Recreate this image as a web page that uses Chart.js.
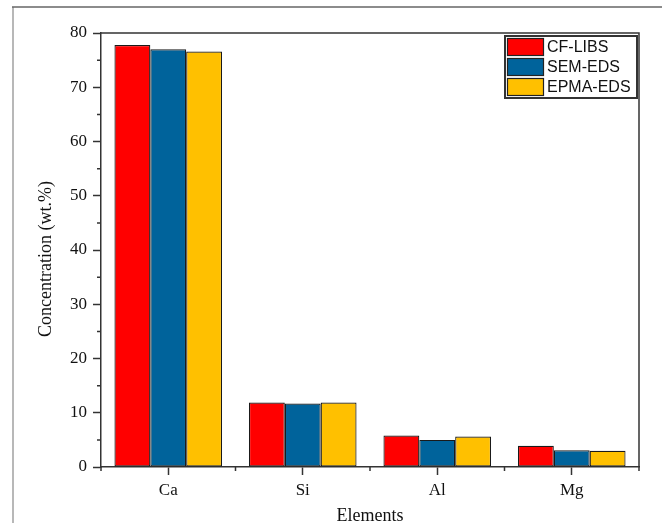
<!DOCTYPE html>
<html>
<head>
<meta charset="utf-8">
<script src="https://cdn.jsdelivr.net/npm/chart.js@4/dist/chart.umd.min.js"></script>
<style>
  html, body { margin: 0; padding: 0; background: #fff; }
  #wrap { width: 662px; height: 523px; position: relative; }
</style>
</head>
<body>
<div id="wrap"><canvas id="c" width="662" height="523"></canvas></div>
<script>
// Element concentrations (wt.%) measured by three techniques
const elements = ['Ca', 'Si', 'Al', 'Mg'];
const cfLibs  = [77.8, 11.9, 5.8, 3.9];
const semEds  = [77.0, 11.7, 5.0, 3.1];
const epmaEds = [76.6, 11.9, 5.6, 3.0];
const seriesNames = ['CF-LIBS', 'SEM-EDS', 'EPMA-EDS'];
const seriesColors = ['#ff0000', '#00639b', '#ffc000'];
const yMin = 0, yMax = 80, yStep = 10, yMinorStep = 5;
const xTitle = 'Elements';
const yTitle = 'Concentration (wt.%)';

const serif = '"Liberation Serif", "Times New Roman", serif';
const sans = '"Liberation Sans", Arial, sans-serif';
const axisColor = '#333';
const textColor = '#111';

// page frame, plot box, minor ticks, titles and legend
const decorations = {
  id: 'decorations',
  beforeDraw(chart) {
    const ctx = chart.ctx;
    ctx.save();
    ctx.fillStyle = '#fff';
    ctx.fillRect(0, 0, chart.width, chart.height);
    ctx.strokeStyle = '#b8b8b8';
    ctx.lineWidth = 2;
    ctx.beginPath();
    ctx.moveTo(13, 7);
    ctx.lineTo(13, chart.height);
    ctx.stroke();
    ctx.strokeStyle = '#666';
    ctx.lineWidth = 1.5;
    ctx.beginPath();
    ctx.moveTo(12, 7);
    ctx.lineTo(chart.width, 7);
    ctx.stroke();
    ctx.restore();
  },
  afterDraw(chart) {
    const ctx = chart.ctx;
    const a = chart.chartArea;
    const xs = chart.scales.x, ys = chart.scales.y;
    ctx.save();
    ctx.strokeStyle = axisColor;
    ctx.lineWidth = 1.5;
    // top and right edges of the plot box
    ctx.beginPath();
    ctx.moveTo(a.left, a.top);
    ctx.lineTo(a.right, a.top);
    ctx.lineTo(a.right, a.bottom);
    ctx.stroke();
    // minor y ticks
    ctx.beginPath();
    for (let v = yMin + yMinorStep; v < yMax; v += yStep) {
      const py = ys.getPixelForValue(v);
      ctx.moveTo(a.left - 4, py);
      ctx.lineTo(a.left, py);
    }
    // minor x ticks between categories
    for (let i = 0; i <= elements.length; i++) {
      let px;
      if (i === 0) px = a.left;
      else if (i === elements.length) px = a.right;
      else px = (xs.getPixelForValue(i - 1) + xs.getPixelForValue(i)) / 2;
      ctx.moveTo(px, a.bottom);
      ctx.lineTo(px, a.bottom + 4);
    }
    ctx.stroke();

    // axis titles
    ctx.fillStyle = textColor;
    ctx.font = '18px ' + serif;
    ctx.textAlign = 'center';
    ctx.textBaseline = 'middle';
    ctx.fillText(xTitle, (a.left + a.right) / 2, 516);
    ctx.save();
    ctx.translate(46, 259);
    ctx.rotate(-Math.PI / 2);
    ctx.fillText(yTitle, 0, 0);
    ctx.restore();

    // legend
    const lx = 505, ly = 36, lw = 132, lh = 62;
    ctx.strokeStyle = '#333';
    ctx.lineWidth = 2;
    ctx.strokeRect(lx, ly, lw, lh);
    ctx.font = '16px ' + sans;
    ctx.textAlign = 'left';
    ctx.textBaseline = 'middle';
    chart.data.datasets.forEach((ds, i) => {
      const sy = ly + 2.5 + i * 20;
      ctx.fillStyle = ds.backgroundColor;
      ctx.fillRect(lx + 2.5, sy, 36, 17);
      ctx.strokeStyle = '#222';
      ctx.lineWidth = 1.2;
      ctx.strokeRect(lx + 2.5, sy, 36, 17);
      ctx.fillStyle = textColor;
      ctx.fillText(ds.label, lx + 42, sy + 9);
    });
    ctx.restore();
  }
};

const yTickValues = [];
for (let v = yMin; v <= yMax; v += yStep) yTickValues.push(v);

new Chart(document.getElementById('c'), {
  type: 'bar',
  data: {
    labels: elements,
    datasets: [cfLibs, semEds, epmaEds].map((vals, i) => ({
      label: seriesNames[i],
      data: vals,
      backgroundColor: seriesColors[i],
      borderColor: '#1a1a1a',
      borderWidth: 1.2,
      borderSkipped: false,
      barPercentage: 1,
      categoryPercentage: 0.8
    }))
  },
  options: {
    responsive: false,
    animation: false,
    events: [],
    devicePixelRatio: 1,
    layout: { padding: { left: 0, top: 33, right: 23, bottom: 0 } },
    plugins: { legend: { display: false }, tooltip: { enabled: false } },
    scales: {
      x: {
        offset: true,
        grid: { display: true, offset: false, drawOnChartArea: false, tickLength: 8, tickColor: axisColor, tickWidth: 1.5 },
        border: { display: true, color: axisColor, width: 1.5 },
        ticks: { color: textColor, font: { family: serif, size: 17 }, padding: 5, maxRotation: 0 },
        afterFit(s) { s.height = 56; }
      },
      y: {
        min: yMin,
        max: yMax,
        afterBuildTicks(s) { s.ticks = yTickValues.map(v => ({ value: v })); },
        grid: { display: true, drawOnChartArea: false, tickLength: 8, tickColor: axisColor, tickWidth: 1.5 },
        border: { display: true, color: axisColor, width: 1.5 },
        ticks: { color: textColor, font: { family: serif, size: 17 }, padding: 6 },
        afterFit(s) { s.width = 101; }
      }
    }
  },
  plugins: [decorations]
});
</script>
</body>
</html>
